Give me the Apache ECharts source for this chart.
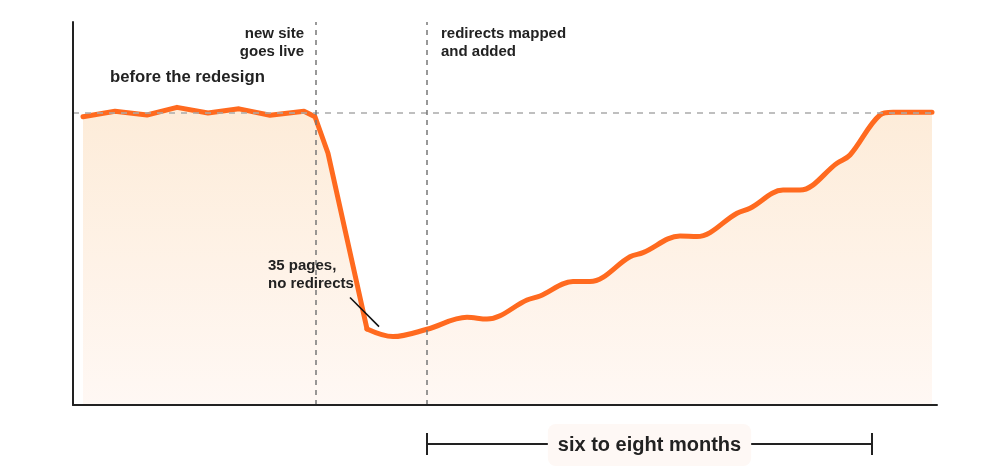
<!DOCTYPE html>
<html>
<head>
<meta charset="utf-8">
<script src="https://cdn.jsdelivr.net/npm/echarts@6/dist/echarts.min.js"></script>
<style>
	html,body{margin:0;padding:0;background:#fff;}
	#main{width:1000px;height:467px;}
</style>
</head>
<body>
<div id="main"></div>
<script>
// traffic before the redesign and the drop after launch (x = days, y = % of usual traffic)
var beforeX = [10, 42, 74, 104, 135, 166, 197, 231, 242, 255, 294];
var beforeY = [98.6, 100.5, 99.2, 101.8, 99.9, 101.3, 99.1, 100.5, 98.6, 86.1, 26.0];
// slow recovery once redirects are in place
var afterX = [294, 320, 354, 394, 414, 454, 467, 500, 517, 557, 570, 607, 624, 664, 677, 710, 727, 764, 777, 807, 820, 859];
var afterY = [26.0, 23.4, 25.9, 30.0, 29.4, 35.9, 37.3, 42.2, 42.2, 50.7, 52.1, 57.8, 57.6, 65.6, 67.3, 73.5, 73.5, 82.7, 85.5, 99.2, 100.1, 100.1];
// events
var launchX = 243;
var redirectsX = 354;
var recoveredX = 799;
var baseline = 100;

function pairs(xs, ys){
	return xs.map(function(x, i){ return [x, ys[i]]; });
}

var font = '"Liberation Sans", Arial, sans-serif';
var lineColor = '#ff6a1f';
var fill = {
	type: 'linear', x: 0, y: 112, x2: 0, y2: 405, global: true,
	colorStops: [{offset: 0, color: '#fdecd9'}, {offset: 1, color: '#fff8f4'}]
};

var myChart = echarts.init(document.getElementById('main'));
myChart.setOption({
	animation: false,
	grid: {left: 73, right: 63, top: 22, bottom: 62},
	xAxis: {
		type: 'value', min: 0, max: 864, z: 10,
		axisLine: {lineStyle: {color: '#222', width: 2}},
		axisTick: {show: false}, axisLabel: {show: false}, splitLine: {show: false}
	},
	yAxis: {
		type: 'value', min: 0, max: 131, z: 10,
		axisLine: {show: true, lineStyle: {color: '#222', width: 2}},
		axisTick: {show: false}, axisLabel: {show: false}, splitLine: {show: false}
	},
	series: [
		{
			type: 'line',
			data: pairs(beforeX, beforeY),
			symbol: 'none',
			lineStyle: {color: lineColor, width: 5, join: 'round', cap: 'round'},
			areaStyle: {color: fill, opacity: 1},
			z: 3,
			markLine: {
				silent: true, symbol: 'none', label: {show: false},
				data: [
					{yAxis: baseline, lineStyle: {color: '#aaa', type: [6, 6], width: 1.5}},
					{xAxis: launchX, lineStyle: {color: '#777', type: [5, 5], width: 1.5}},
					{xAxis: redirectsX, lineStyle: {color: '#777', type: [5, 5], width: 1.5}}
				]
			}
		},
		{
			type: 'line',
			data: pairs(afterX, afterY),
			symbol: 'none',
			smooth: 0.35,
			lineStyle: {color: lineColor, width: 5, join: 'round', cap: 'round'},
			areaStyle: {color: fill, opacity: 1},
			z: 3
		}
	]
});

// annotations placed from data positions
function px(x, y){
	return myChart.convertToPixel({gridIndex: 0}, [x, y]);
}
var txt = {fontFamily: font, fontWeight: 'bold', fontSize: 15, fill: '#222', lineHeight: 18};
var launchTop = px(launchX, 131);
var redirTop = px(redirectsX, 131);
var before = px(37, 112);
var noteEnd = px(306, 26.8);
var noteStart = px(277, 36.8);
var spanL = px(redirectsX, 0);
var spanR = px(recoveredX, 0);
var spanY = spanL[1] + 39;

myChart.setOption({
	graphic: [
		{type: 'text', x: launchTop[0] - 12, y: launchTop[1] + 3, z: 100,
			style: Object.assign({text: 'new site\ngoes live', align: 'right'}, txt)},
		{type: 'text', x: redirTop[0] + 14, y: redirTop[1] + 3, z: 100,
			style: Object.assign({text: 'redirects mapped\nand added', align: 'left'}, txt)},
		{type: 'text', x: before[0], y: before[1], z: 100, style: {text: 'before the redesign', fontFamily: font,
			fontWeight: 'bold', fontSize: 16.7, fill: '#222', verticalAlign: 'middle'}},
		{type: 'text', x: noteStart[0] - 82, y: noteStart[1] - 41, z: 100,
			style: Object.assign({text: '35 pages,\nno redirects', align: 'left'}, txt)},
		{type: 'line', shape: {x1: noteStart[0], y1: noteStart[1], x2: noteEnd[0], y2: noteEnd[1]},
			style: {stroke: '#111', lineWidth: 1.5}, z: 100},
		{type: 'line', shape: {x1: spanL[0], y1: spanY, x2: spanR[0], y2: spanY},
			style: {stroke: '#222', lineWidth: 2}, z: 100},
		{type: 'line', shape: {x1: spanL[0], y1: spanY - 11, x2: spanL[0], y2: spanY + 11},
			style: {stroke: '#222', lineWidth: 2}, z: 100},
		{type: 'line', shape: {x1: spanR[0], y1: spanY - 11, x2: spanR[0], y2: spanY + 11},
			style: {stroke: '#222', lineWidth: 2}, z: 100},
		{type: 'text', x: (spanL[0] + spanR[0]) / 2, y: spanY + 1, z: 110,
			style: {text: 'six to eight months', fontFamily: font, fontWeight: 'bold', fontSize: 20,
				fill: '#222', align: 'center', verticalAlign: 'middle',
				backgroundColor: '#fef8f5', borderRadius: 8, padding: [11, 10, 11, 10]}}
	]
});
</script>
</body>
</html>
